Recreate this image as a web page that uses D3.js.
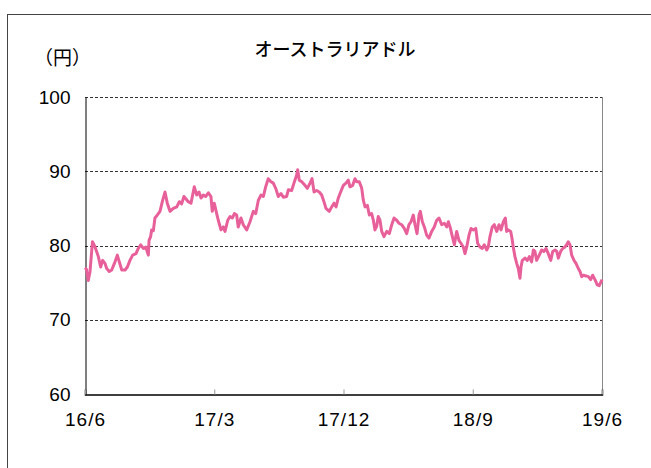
<!DOCTYPE html>
<html>
<head>
<meta charset="utf-8">
<script src="https://cdn.jsdelivr.net/npm/d3@7"></script>
<style>
  body { margin: 0; background: #fff; }
  svg { display: block; }
  text { fill: #000; }
</style>
</head>
<body>
<div id="chart"></div>
<script>
// months elapsed since 2016/6
var months = [
  0, 0.10, 0.23, 0.35, 0.52, 0.70, 0.93, 1.09, 1.23, 1.39, 1.51, 1.69, 1.86, 2.09, 2.25, 2.39,
  2.56, 2.79, 2.95, 3.13, 3.32, 3.55, 3.71, 3.88, 4.06, 4.23, 4.41, 4.46, 4.57, 4.64, 4.76, 4.87,
  5.03, 5.22, 5.41, 5.57, 5.73, 5.92, 6.15, 6.39, 6.57, 6.73, 6.89, 7.19, 7.38, 7.61, 7.78, 7.94,
  8.08, 8.24, 8.40, 8.59, 8.77, 8.86, 9.00, 9.17, 9.28, 9.47, 9.63, 9.75, 9.94, 10.10, 10.26, 10.40,
  10.56, 10.67, 10.86, 11.02, 11.26, 11.49, 11.72, 11.89, 12.07, 12.26, 12.42, 12.58, 12.76, 12.95, 13.11, 13.28,
  13.46, 13.65, 13.81, 14.04, 14.16, 14.39, 14.55, 14.74, 14.81, 14.92, 15.09, 15.32, 15.48, 15.67, 15.81, 15.95,
  16.13, 16.31, 16.48, 16.64, 16.78, 17.01, 17.18, 17.34, 17.48, 17.64, 17.80, 17.99, 18.17, 18.33, 18.45, 18.64,
  18.80, 18.92, 19.10, 19.27, 19.38, 19.50, 19.66, 19.80, 19.96, 20.08, 20.19, 20.31, 20.42, 20.54, 20.66, 20.82,
  21.01, 21.19, 21.36, 21.52, 21.70, 21.86, 22.05, 22.23, 22.40, 22.56, 22.70, 22.86, 22.98, 23.12, 23.26, 23.35,
  23.49, 23.63, 23.79, 23.95, 24.14, 24.32, 24.49, 24.65, 24.84, 25.02, 25.19, 25.30, 25.42, 25.58, 25.72, 25.88,
  26.04, 26.18, 26.34, 26.46, 26.58, 26.74, 26.88, 27.04, 27.21, 27.34, 27.50, 27.66, 27.80, 27.97, 28.08, 28.20,
  28.36, 28.50, 28.67, 28.83, 28.97, 29.13, 29.27, 29.36, 29.48, 29.64, 29.73, 29.82, 29.94, 30.06, 30.17, 30.29,
  30.36, 30.45, 30.64, 30.80, 30.94, 31.10, 31.22, 31.33, 31.45, 31.63, 31.80, 31.96, 32.10, 32.26, 32.43, 32.57,
  32.73, 32.85, 32.96, 33.12, 33.26, 33.42, 33.54, 33.65, 33.77, 33.89, 34.05, 34.19, 34.35, 34.47, 34.59, 34.70,
  34.89, 35.05, 35.21, 35.35, 35.51, 35.67, 35.81, 36.00
];

// AUD/JPY rate (yen)
var rate = [
  77.0, 76.8, 75.3, 76.5, 80.5, 79.8, 78.5, 77.1, 78.0, 77.6, 76.9, 76.5, 76.7, 77.8, 78.7, 77.8,
  76.7, 76.7, 77.1, 78.0, 78.7, 78.9, 79.6, 80.1, 79.6, 79.8, 78.7, 80.7, 81.2, 82.1, 82.0, 83.7,
  84.1, 84.6, 86.1, 87.2, 85.7, 84.6, 85.0, 85.2, 85.9, 85.6, 86.6, 85.9, 85.7, 87.9, 86.8, 87.2,
  86.4, 86.8, 86.6, 87.1, 86.6, 84.6, 85.7, 84.3, 83.4, 82.1, 82.5, 81.9, 83.4, 83.9, 83.7, 84.3,
  84.1, 82.5, 83.7, 82.8, 82.1, 83.2, 84.6, 84.3, 86.1, 86.8, 86.6, 87.9, 89.0, 88.6, 88.4, 87.7,
  86.6, 87.0, 86.5, 86.6, 87.5, 87.4, 88.4, 89.5, 90.2, 88.8, 88.6, 88.1, 87.7, 88.4, 89.0, 87.2,
  87.4, 87.2, 86.8, 85.9, 85.0, 84.6, 85.2, 85.7, 85.2, 86.4, 87.2, 88.1, 88.4, 88.8, 87.9, 88.1,
  89.0, 88.6, 88.6, 87.7, 86.1, 85.2, 85.4, 84.1, 84.3, 83.4, 82.1, 82.6, 83.9, 83.4, 81.9, 81.2,
  81.9, 81.6, 82.8, 83.7, 83.4, 83.0, 82.8, 82.3, 81.6, 82.8, 83.2, 84.1, 82.8, 81.6, 84.1, 84.6,
  83.2, 82.5, 81.4, 81.0, 81.9, 82.5, 83.4, 83.7, 82.8, 83.0, 82.5, 83.2, 82.5, 81.2, 80.1, 81.9,
  80.7, 80.3, 79.8, 78.9, 79.8, 81.4, 82.3, 82.1, 82.3, 80.3, 79.8, 79.6, 80.1, 79.4, 79.8, 81.2,
  82.5, 82.8, 81.9, 82.8, 82.1, 83.2, 83.7, 81.9, 82.1, 81.9, 81.0, 79.8, 78.5, 77.6, 76.9, 75.6,
  77.1, 78.0, 78.3, 78.0, 78.5, 77.8, 79.4, 79.2, 78.0, 78.7, 79.4, 79.2, 79.6, 78.9, 78.0, 79.2,
  79.4, 79.2, 78.3, 79.2, 79.6, 79.8, 80.1, 80.5, 80.1, 78.7, 78.0, 77.6, 76.9, 76.5, 75.8, 76.0,
  75.9, 75.8, 75.4, 76.0, 75.4, 74.7, 74.6, 75.4
];

var tickMonths = [0, 9, 18, 27, 36];
var tickLabels = ["16/6", "17/3", "17/12", "18/9", "19/6"];
var yTicks = [60, 70, 80, 90, 100];
var title = "オーストラリアドル";
var unit = "（円）";

var W = 651, H = 468;
var margin = { top: 97, right: 49, bottom: 74, left: 85 };
var width = W - margin.left - margin.right,
    height = H - margin.top - margin.bottom;

var svg = d3.select("#chart").append("svg")
  .attr("width", W)
  .attr("height", H);

// outer frame, runs off the right and bottom edges
svg.append("rect")
  .attr("x", 7.5).attr("y", 14.5)
  .attr("width", 700).attr("height", 500)
  .attr("fill", "none")
  .attr("stroke", "#444");

svg.append("text")
  .attr("x", 335).attr("y", 56)
  .attr("text-anchor", "middle")
  .style("font-family", "'Noto Sans CJK JP', sans-serif")
  .style("font-size", "18px")
  .style("font-weight", 500)
  .text(title);

svg.append("text")
  .attr("x", 34).attr("y", 65)
  .style("font-family", "'Noto Sans CJK JP', sans-serif")
  .style("font-size", "19px")
  .text(unit);

var g = svg.append("g")
  .attr("transform", "translate(" + margin.left + "," + margin.top + ")");

var x = d3.scaleLinear().domain([0, 36]).range([0, width]);
var y = d3.scaleLinear().domain([60, 100]).range([height, 0]);

// dashed grid lines
g.append("g")
  .attr("class", "grid")
  .selectAll("line")
  .data(yTicks.filter(function(d) { return d > 60; }))
  .enter().append("line")
  .attr("x1", 0).attr("x2", width)
  .attr("y1", function(d) { return Math.round(y(d)) + 0.5; })
  .attr("y2", function(d) { return Math.round(y(d)) + 0.5; })
  .attr("stroke", "#333")
  .attr("stroke-dasharray", "3,2");

// right edge of plot
g.append("line")
  .attr("x1", width + 0.5).attr("x2", width + 0.5)
  .attr("y1", 0).attr("y2", height)
  .attr("stroke", "#888");

// y axis
var yAxis = g.append("g")
  .attr("transform", "translate(0.5,0)")
  .call(d3.axisLeft(y).tickValues(yTicks).tickSize(0).tickPadding(15));
yAxis.select(".domain").attr("stroke", "#000");
yAxis.selectAll("text")
  .style("font-family", "'Liberation Sans', Arial, sans-serif")
  .style("font-size", "19px");

// x axis
var xAxis = g.append("g")
  .attr("transform", "translate(0," + (height + 0.5) + ")")
  .call(d3.axisBottom(x)
    .tickValues(tickMonths)
    .tickSize(-5)
    .tickPadding(18)
    .tickFormat(function(d, i) { return tickLabels[i]; }));
xAxis.select(".domain").attr("stroke", "#000").attr("stroke-width", 1.5);
xAxis.selectAll(".tick line").attr("stroke", "#999");
xAxis.selectAll("text")
  .style("font-family", "'Liberation Sans', Arial, sans-serif")
  .style("font-size", "19px")
  .style("letter-spacing", "1px");

// rate line
var line = d3.line()
  .x(function(d, i) { return x(months[i]); })
  .y(function(d) { return y(d); });

g.append("path")
  .datum(rate)
  .attr("fill", "none")
  .attr("stroke", "#E8609A")
  .attr("stroke-width", 3)
  .attr("stroke-linejoin", "round")
  .attr("d", line);
</script>
</body>
</html>
